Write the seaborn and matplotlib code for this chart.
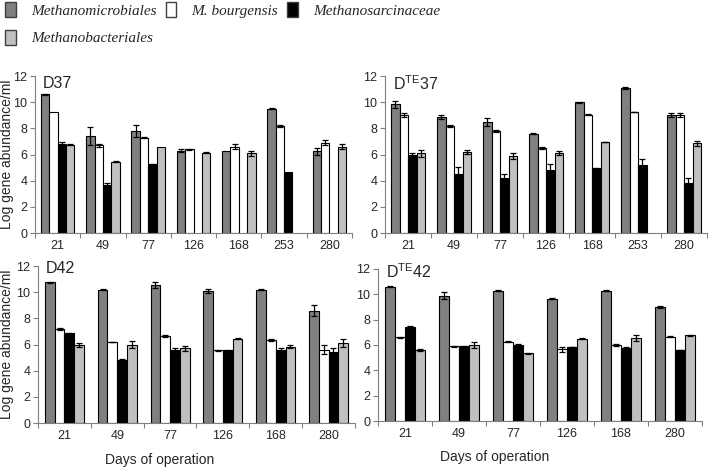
import numpy as np
import pandas as pd
import matplotlib.pyplot as plt
import seaborn as sns
from matplotlib.patches import Patch
from matplotlib.container import BarContainer
from matplotlib.font_manager import FontProperties

nan = np.nan

series = ["Methanomicrobiales", "M. bourgensis", "Methanosarcinaceae", "Methanobacteriales"]
colors = ["#808080", "#ffffff", "#000000", "#c0c0c0"]

days_37 = ["21", "49", "77", "126", "168", "253", "280"]
days_42 = ["21", "49", "77", "126", "168", "280"]

# D37
d37_mmic = [10.6, 7.4, 7.8, 6.3, 6.25, 9.5, 6.25]
d37_mbou = [9.25, 6.7, 7.3, 6.4, 6.6, 8.2, 6.9]
d37_msar = [6.8, 3.7, 5.25, nan, nan, 4.7, nan]
d37_mbac = [6.75, 5.45, 6.55, 6.15, 6.1, nan, 6.6]
d37_mmic_err = [0.05, 0.7, 0.45, 0.1, 0.0, 0.05, 0.25]
d37_mbou_err = [0.0, 0.1, 0.05, 0.05, 0.2, 0.1, 0.2]
d37_msar_err = [0.15, 0.1, 0.05, nan, nan, 0.0, nan]
d37_mbac_err = [0.05, 0.05, 0.0, 0.05, 0.2, nan, 0.2]

# DTE37
dte37_mmic = [9.85, 8.85, 8.5, 7.6, 10.0, 11.1, 9.0]
dte37_mbou = [9.0, 8.2, 7.8, 6.5, 9.05, 9.25, 9.0]
dte37_msar = [6.0, 4.5, 4.2, 4.8, 4.95, 5.2, 3.85]
dte37_mbac = [6.1, 6.2, 5.9, 6.1, 6.95, nan, 6.85]
dte37_mmic_err = [0.25, 0.15, 0.3, 0.03, 0.05, 0.05, 0.15]
dte37_mbou_err = [0.15, 0.1, 0.05, 0.05, 0.05, 0.02, 0.15]
dte37_msar_err = [0.1, 0.55, 0.3, 0.45, 0.03, 0.45, 0.35]
dte37_mbac_err = [0.25, 0.15, 0.25, 0.15, 0.02, nan, 0.2]

# D42
d42_mmic = [10.75, 10.2, 10.55, 10.1, 10.2, 8.6]
d42_mbou = [7.2, 6.2, 6.65, 5.55, 6.35, 5.6]
d42_msar = [6.85, 4.8, 5.6, 5.55, 5.6, 5.4]
d42_mbac = [6.0, 6.0, 5.7, 6.45, 5.85, 6.1]
d42_mmic_err = [0.05, 0.05, 0.2, 0.15, 0.05, 0.4]
d42_mbou_err = [0.1, 0.02, 0.1, 0.02, 0.05, 0.35]
d42_msar_err = [0.05, 0.1, 0.15, 0.02, 0.1, 0.35]
d42_mbac_err = [0.15, 0.25, 0.2, 0.05, 0.1, 0.3]

# DTE42
dte42_mmic = [10.6, 9.9, 10.3, 9.65, 10.3, 9.0]
dte42_mbou = [6.6, 5.9, 6.25, 5.65, 6.0, 6.65]
dte42_msar = [7.45, 5.9, 6.0, 5.85, 5.8, 5.6]
dte42_mbac = [5.6, 6.0, 5.35, 6.5, 6.55, 6.75]
dte42_mmic_err = [0.03, 0.25, 0.05, 0.05, 0.05, 0.05]
dte42_mbou_err = [0.02, 0.05, 0.05, 0.2, 0.1, 0.05]
dte42_msar_err = [0.05, 0.05, 0.05, 0.03, 0.02, 0.02]
dte42_mbac_err = [0.05, 0.2, 0.05, 0.02, 0.2, 0.03]

sns.set_style("ticks")
plt.rcParams["font.family"] = ["Liberation Sans", "DejaVu Sans"]
plt.rcParams["mathtext.default"] = "regular"

axis_grey = "#808080"


def draw_panel(ax, days, values, errors, title, title_y, ylab_x, xlabel, xlab_x):
    rows = []
    for name, vals in zip(series, values):
        for d, v in zip(days, vals):
            rows.append({"day": d, "series": name, "value": v})
    df = pd.DataFrame(rows).dropna()
    sns.barplot(data=df, x="day", y="value", hue="series", order=days,
                hue_order=series, palette=dict(zip(series, colors)),
                width=0.74, edgecolor="black", linewidth=0.8, saturation=1,
                errorbar=None, legend=False, ax=ax)
    # error bars on top of each bar
    bar_conts = [c for c in ax.containers if isinstance(c, BarContainer)]
    for j, cont in enumerate(bar_conts):
        for bar in cont:
            cx = bar.get_x() + bar.get_width() / 2
            cat = int(round(cx))
            err = errors[j][cat]
            if np.isnan(err) or err <= 0:
                continue
            ax.errorbar(cx, bar.get_height(), yerr=err, fmt="none",
                        ecolor="black", elinewidth=0.9, capsize=2.2,
                        capthick=0.9, zorder=5)
    n = len(days)
    ax.set_xlim(-0.5, n - 0.5)
    ax.set_ylim(0, 12)
    ax.set_yticks(range(0, 13, 2))
    ax.set_xticks(np.arange(-0.5, n, 1.0), minor=True)
    ax.tick_params(axis="x", which="major", length=0, pad=5, labelsize=9)
    ax.tick_params(axis="x", which="minor", length=3.5, color=axis_grey, width=0.8)
    ax.tick_params(axis="y", length=3.5, color=axis_grey, width=0.8, labelsize=9, pad=2)
    for side in ["top", "right"]:
        ax.spines[side].set_visible(False)
    for side in ["left", "bottom"]:
        ax.spines[side].set_color(axis_grey)
        ax.spines[side].set_linewidth(0.8)
    if ylab_x is not None:
        ax.set_ylabel("Log gene abundance/ml", fontsize=10)
        ax.yaxis.set_label_coords(ylab_x, 0.5)
    else:
        ax.set_ylabel("")
    ax.set_xlabel(xlabel, fontsize=10)
    if xlabel:
        ax.xaxis.set_label_coords(xlab_x, -0.19)
    ax.text(0.025, title_y, title, transform=ax.transAxes, fontsize=11.5, va="top", ha="left")


fig = plt.figure(figsize=(7.1, 4.67), dpi=100)
ax_tl = fig.add_axes([0.0493, 0.501, 0.4465, 0.336])
ax_tr = fig.add_axes([0.5423, 0.501, 0.4535, 0.336])
ax_bl = fig.add_axes([0.0535, 0.0942, 0.4465, 0.336])
ax_br = fig.add_axes([0.5324, 0.0985, 0.456, 0.3255])

draw_panel(ax_tl, days_37, [d37_mmic, d37_mbou, d37_msar, d37_mbac],
           [d37_mmic_err, d37_mbou_err, d37_msar_err, d37_mbac_err],
           "D37", 1.0, -0.066, "", 0.5)
draw_panel(ax_tr, days_37, [dte37_mmic, dte37_mbou, dte37_msar, dte37_mbac],
           [dte37_mmic_err, dte37_mbou_err, dte37_msar_err, dte37_mbac_err],
           "D$^{TE}$37", 1.01, None, "", 0.5)
draw_panel(ax_bl, days_42, [d42_mmic, d42_mbou, d42_msar, d42_mbac],
           [d42_mmic_err, d42_mbou_err, d42_msar_err, d42_mbac_err],
           "D42", 1.03, -0.075, "Days of operation", 0.385)
draw_panel(ax_br, days_42, [dte42_mmic, dte42_mbou, dte42_msar, dte42_mbac],
           [dte42_mmic_err, dte42_mbou_err, dte42_msar_err, dte42_mbac_err],
           "D$^{TE}$42", 1.045, None, "Days of operation", 0.36)

handles = [Patch(facecolor=c, edgecolor="#404040", linewidth=1.0, label=s)
           for s, c in zip(series, colors)]
order = [0, 3, 1, 2]
fig.legend(handles=[handles[i] for i in order], ncol=3, loc="upper left",
           bbox_to_anchor=(-0.008, 1.018), frameon=False,
           prop=FontProperties(family="Liberation Serif", style="italic", size=11),
           handlelength=0.7, handleheight=1.15, handletextpad=1.0,
           columnspacing=0.6, labelspacing=0.75, borderaxespad=0.3)

fig.savefig("out.png", dpi=100)
